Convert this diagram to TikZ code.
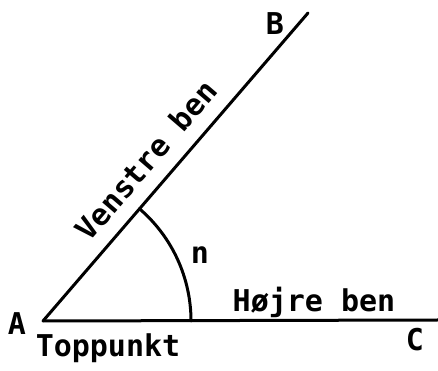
\documentclass[tikz,border=0pt]{standalone}
\usepackage{fontspec}
\usepackage{tikz}
\usetikzlibrary{positioning, calc}
\newfontfamily\plotfont{DejaVu Sans Mono Bold}
\tikzset{
  leg/.style={line width=3pt, line cap=round},
  lbl/.style={font=\plotfont\fontsize{30}{30}\selectfont, inner sep=0pt},
}

\begin{document}
\begin{tikzpicture}[x=1pt, y=1pt]
  \useasboundingbox (0,0) rectangle (438,371);

  % ─── Angle vertex and legs ─────────────────────────────────────────
  \coordinate (A) at (43,50);
  \coordinate (B) at (308,358);
  \coordinate (C) at (438,51);
  \draw[leg] (A) -- (B);
  \draw[leg] (A) -- (C);

  % Angle arc
  \draw[leg] (A) ++(148,0) arc[start angle=0, end angle=49.3, radius=148];

  % ─── Labels ────────────────────────────────────────────────────────
  \node[lbl, rotate=49.3, anchor=south] (venstre) at (155,203) {Venstre ben};
  \node[lbl] (lA) at (17,47) {A};
  \node[lbl, anchor=base] (top) at (108,14) {Toppunkt};
  \node[lbl] (lB) at (275,347) {B};
  \node[lbl] (lC) at (415,31) {C};
  \node[lbl] (n) at (200,116) {n};
  \node[lbl, anchor=base] (hoejre) at (314,59) {Højre ben};
\end{tikzpicture}
\end{document}
